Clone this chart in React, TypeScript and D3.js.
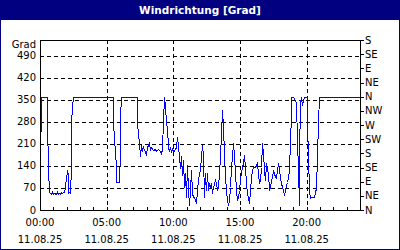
import React from "react";
import * as d3 from "d3";

// time in minutes since 00:00 on 11.08.25
const timeMin: number[] = [
  0, 6, 30, 33, 36, 40, 45, 50, 55, 60,
  65, 70, 75, 80, 85, 90, 95, 100, 105, 110,
  113, 117, 120, 123, 126, 128, 132, 136, 139, 141,
  145, 148, 327, 330, 335, 340, 343, 352, 356, 358,
  362, 366, 435, 438, 444, 449, 453, 459, 465, 471,
  478, 483, 489, 495, 501, 509, 516, 523, 531, 539,
  546, 550, 554, 558, 563, 567, 572, 576, 581, 585,
  591, 595, 600, 606, 613, 618, 622, 627, 631, 636,
  640, 645, 649, 654, 658, 663, 667, 672, 676, 681,
  685, 690, 694, 699, 703, 708, 712, 718, 723, 729,
  733, 738, 743, 747, 752, 756, 761, 765, 771, 775,
  780, 786, 791, 795, 801, 807, 810, 815, 819, 824,
  828, 833, 837, 842, 846, 851, 855, 861, 866, 869,
  873, 878, 882, 887, 891, 896, 900, 905, 909, 914,
  918, 923, 927, 932, 936, 941, 945, 950, 954, 959,
  966, 974, 978, 981, 985, 990, 994, 999, 1003, 1008,
  1013, 1017, 1021, 1026, 1031, 1035, 1040, 1044, 1049, 1053,
  1058, 1062, 1067, 1071, 1076, 1080, 1085, 1089, 1094, 1098,
  1103, 1107, 1112, 1116, 1121, 1125, 1128, 1131, 1139, 1146,
  1151, 1155, 1160, 1164, 1167, 1170, 1173, 1178, 1182, 1187,
  1200, 1203, 1208, 1211, 1214, 1218, 1227, 1232, 1236, 1242,
  1247, 1250, 1254, 1435,
];

// wind direction in degrees
const degrees: number[] = [
  135, 360, 360, 281, 134, 58, 55, 52, 56, 50,
  54, 52, 57, 52, 55, 50, 56, 53, 58, 56,
  74, 108, 117, 127, 110, 53, 56, 53, 138, 276,
  330, 360, 360, 281, 229, 138, 90, 90, 90, 186,
  297, 360, 360, 276, 212, 170, 207, 190, 200, 185,
  175, 200, 212, 195, 200, 192, 195, 188, 193, 186,
  180, 195, 286, 360, 329, 276, 265, 196, 190, 196,
  188, 193, 186, 190, 202, 233, 202, 170, 133, 170,
  111, 160, 74, 117, 42, 143, 64, 16, 64, 127,
  53, 42, 42, 32, 21, 64, 100, 130, 170, 207,
  170, 42, 117, 64, 117, 64, 85, 74, 85, 53,
  74, 95, 85, 64, 74, 117, 170, 244, 318, 265,
  180, 106, 64, 32, 16, 32, 74, 138, 170, 212,
  170, 117, 64, 32, 42, 64, 95, 122, 138, 148,
  175, 138, 85, 53, 42, 21, 64, 106, 127, 138,
  138, 143, 148, 117, 85, 95, 138, 212, 180, 127,
  95, 148, 127, 117, 64, 74, 95, 106, 127, 117,
  106, 101, 127, 148, 127, 106, 85, 74, 64, 48,
  64, 80, 90, 101, 127, 223, 297, 360, 360, 350,
  340, 223, 127, 16, 170, 340, 360, 334, 350, 360,
  360, 276, 170, 64, 37, 40, 40, 42, 58, 69,
  170, 281, 360, 360,
];

const yTicks: number[] = [0, 70, 140, 210, 280, 350, 420, 490];
const compassTicks: number[] = [0, 45, 90, 135, 180, 225, 270, 315, 360, 405, 450, 495, 540];
const compassLabels: string[] = ["N", "NE", "E", "SE", "S", "SW", "W", "NW", "N", "NE", "E", "SE", "S"];
const xLabelTimes: number[] = [0, 300, 600, 900, 1200];
const xLabels: string[] = ["00:00", "05:00", "10:00", "15:00", "20:00"];
const dateLabel = "11.08.25";
const hourTicks: number[] = d3.range(0, 1441, 60);

const W = 400;
const H = 250;
const left = 40, right = 360, top = 40, bottom = 210;
const FONT = "DejaVu Sans";

export default function App() {
  const x = d3.scaleLinear().domain([0, 1440]).range([left, right]);
  const y = d3.scaleLinear().domain([0, 540]).range([bottom, top]);
  const line = d3
    .line<number>()
    .x((_, i) => Math.round(x(timeMin[i])) + 0.5)
    .y((d) => Math.round(y(d)) + 0.5);
  const path = line(degrees) || "";

  return (
    <svg
      width={W}
      height={H}
      style={{ position: "absolute", left: 0, top: 0, display: "block" }}
      fontFamily={FONT}
    >
      <rect x={0} y={0} width={W} height={H} fill="#ffffff" />
      <rect x={0.5} y={0.5} width={W - 1} height={H - 1} fill="none" stroke="#000080" />
      <rect x={0} y={0} width={W} height={20} fill="#000080" />
      <text x={W / 2} y={14} textAnchor="middle" fill="#ffffff" fontSize={10.5} fontWeight="bold">
        Windrichtung [Grad]
      </text>

      <g shapeRendering="crispEdges">
        {/* horizontal grid */}
        {yTicks.filter((t) => t > 0).map((t) => (
          <line
            key={"hg" + t}
            x1={left}
            x2={right}
            y1={Math.round(y(t)) + 0.5}
            y2={Math.round(y(t)) + 0.5}
            stroke="#000"
            strokeDasharray="4,3"
          />
        ))}
        {/* vertical grid */}
        {xLabelTimes.filter((t) => t > 0).map((t) => (
          <line
            key={"vg" + t}
            x1={Math.round(x(t)) + 0.5}
            x2={Math.round(x(t)) + 0.5}
            y1={top}
            y2={bottom}
            stroke="#000"
            strokeDasharray="4,3"
          />
        ))}
        {/* hour ticks */}
        {hourTicks.map((t) => (
          <line
            key={"ht" + t}
            x1={Math.round(x(t)) + 0.5}
            x2={Math.round(x(t)) + 0.5}
            y1={bottom - 3}
            y2={bottom}
            stroke="#000"
          />
        ))}
        {/* compass ticks */}
        {compassTicks.map((t) => (
          <line
            key={"ct" + t}
            x1={right}
            x2={right + 4}
            y1={Math.round(y(t)) + 0.5}
            y2={Math.round(y(t)) + 0.5}
            stroke="#000"
          />
        ))}

        {/* data */}
        <path d={path} fill="none" stroke="#0000ff" strokeWidth={1} />

        {/* frame */}
        <rect x={left + 0.5} y={top + 0.5} width={right - left} height={bottom - top} fill="none" stroke="#000" />
      </g>

      {/* left labels */}
      <text x={36} y={48} textAnchor="end" fontSize={10} fill="#000">Grad</text>
      {yTicks.map((t) => (
        <text key={"yl" + t} x={36} y={y(t) + 3.5} textAnchor="end" fontSize={10} fill="#000">
          {t}
        </text>
      ))}
      {/* right labels */}
      {compassTicks.map((t, i) => (
        <text key={"cl" + t} x={365} y={y(t) + 3.5} textAnchor="start" fontSize={10} fill="#000">
          {compassLabels[i]}
        </text>
      ))}
      {/* x labels */}
      {xLabelTimes.map((t, i) => (
        <g key={"xl" + t}>
          <text x={x(t)} y={226} textAnchor="middle" fontSize={10} fill="#000">
            {xLabels[i]}
          </text>
          <text x={x(t)} y={243} textAnchor="middle" fontSize={10} fill="#000">
            {dateLabel}
          </text>
        </g>
      ))}
    </svg>
  );
}
